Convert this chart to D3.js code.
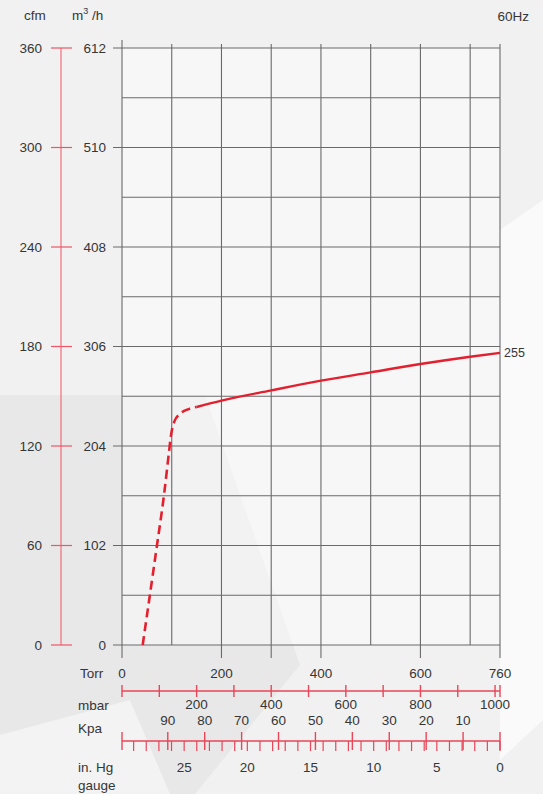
<!DOCTYPE html>
<html>
<head>
<meta charset="utf-8">
<script src="https://cdn.jsdelivr.net/npm/d3@7"></script>
<style>
  html, body { margin: 0; padding: 0; background: #efefef; }
  svg text { font-family: "Liberation Sans", Arial, sans-serif; font-size: 13.5px; fill: #363636; }
</style>
</head>
<body>
<div class="chartContainer"></div>
<script>
// DATA
var torrGrid = [0, 100, 200, 300, 400, 500, 600, 700, 760]
var torrLong = [0, 200, 300, 400, 600, 760]
var torrLabels = [0, 200, 400, 600, 760]
var flowGrid = [0, 51, 102, 153, 204, 255, 306, 357, 408, 459, 510, 561, 612]
var flowLabels = [0, 102, 204, 306, 408, 510, 612]
var cfmLabels = [0, 60, 120, 180, 240, 300, 360]
var mbarTicks = [0, 100, 200, 300, 400, 500, 600, 700, 800, 900, 1000, 1013.25]
var mbarLabels = [200, 400, 600, 800, 1000]
var kpaTicks = [0, 10, 20, 30, 40, 50, 60, 70, 80, 90, 102.4]
var kpaLabels = [90, 80, 70, 60, 50, 40, 30, 20, 10]
var inhgTicks = d3.range(0, 30)
var inhgLabels = [25, 20, 15, 10, 5, 0]

// curve, [torr, m3/h]
var curveDashed = [[41.6, 0], [56, 51], [70, 101], [84, 152], [95, 200], [98, 213], [101, 222], [106, 230], [114, 236], [125, 240], [138, 242.5], [150, 244]]
var curveSolid = [[150, 244], [200, 250.5], [300, 261], [400, 271], [500, 279.5], [600, 288], [700, 295.5], [760, 299.5]]

// SIZING
var width = 543
var height = 794

// SCALES
var x = d3.scaleLinear().domain([0, 760]).range([122, 500])
var y = d3.scaleLinear().domain([0, 612]).range([645, 48])
var cfm = d3.scaleLinear().domain([0, 360]).range([645, 48])
var mbarX = d3.scaleLinear().domain([0, 1013.25]).range([122, 500])
var kpaX = d3.scaleLinear().domain([0, 102.4]).range([500, 122])
var inhgX = d3.scaleLinear().domain([0, 29.92]).range([500, 122])

var svg = d3.select('div.chartContainer')
  .append('svg')
  .attr('width', width)
  .attr('height', height)

// BACKGROUND
svg.append('rect').attr('width', width).attr('height', height).attr('fill', '#f1f1f1')
svg.append('polygon')
  .attr('points', '0,395 205,395 300,665 195,794 0,794')
  .attr('fill', '#e8e8e8')
svg.append('polygon')
  .attr('points', '0,794 0,735 130,700 170,794')
  .attr('fill', '#f3f3f3')
svg.append('polygon')
  .attr('points', '500,230 543,200 543,720 500,760')
  .attr('fill', '#fafafa')
svg.append('rect')
  .attr('x', x(0)).attr('y', y(612))
  .attr('width', x(760) - x(0)).attr('height', y(0) - y(612))
  .attr('fill', '#ffffff').attr('opacity', 0.45)

// GRID
var grid = svg.append('g').attr('stroke', '#6a6a6a').attr('stroke-width', 1.1)
grid.selectAll('line.h')
  .data(flowGrid)
  .enter()
  .append('line')
  .attr('x1', function(d) { return flowLabels.indexOf(d) >= 0 ? 113 : x(0) })
  .attr('x2', x(760))
  .attr('y1', function(d) { return y(d) })
  .attr('y2', function(d) { return y(d) })
grid.selectAll('line.v')
  .data(torrGrid)
  .enter()
  .append('line')
  .attr('x1', function(d) { return x(d) })
  .attr('x2', function(d) { return x(d) })
  .attr('y1', function(d) { return d === 0 ? y(612) - 8 : y(612) - 4 })
  .attr('y2', function(d) { return torrLong.indexOf(d) >= 0 ? y(0) + 13 : y(0) })

// LEFT RED AXIS
svg.append('line')
  .attr('x1', 61).attr('x2', 61)
  .attr('y1', cfm(360)).attr('y2', cfm(0))
  .attr('stroke', '#ee5565').attr('stroke-width', 1)
svg.selectAll('line.cfmTick')
  .data(cfmLabels)
  .enter()
  .append('line')
  .attr('x1', 51).attr('x2', 72)
  .attr('y1', function(d) { return cfm(d) })
  .attr('y2', function(d) { return cfm(d) })
  .attr('stroke', '#ee5565').attr('stroke-width', 1.2)
svg.selectAll('text.cfm')
  .data(cfmLabels)
  .enter()
  .append('text')
  .attr('x', 42)
  .attr('y', function(d) { return cfm(d) + 1 })
  .attr('dominant-baseline', 'middle')
  .style('text-anchor', 'end')
  .text(function(d) { return d })
svg.selectAll('text.flow')
  .data(flowLabels)
  .enter()
  .append('text')
  .attr('x', 106)
  .attr('y', function(d) { return y(d) + 1 })
  .attr('dominant-baseline', 'middle')
  .style('text-anchor', 'end')
  .text(function(d) { return d })

// HEADERS
svg.append('text').attr('x', 24).attr('y', 20).text('cfm')
var unit = svg.append('text').attr('x', 72).attr('y', 20)
unit.append('tspan').text('m')
unit.append('tspan').attr('dy', -6).style('font-size', '9px').text('3')
unit.append('tspan').attr('dy', 6).text(' /h')
svg.append('text').attr('x', 529).attr('y', 21).style('text-anchor', 'end').text('60Hz')

// CURVE
var line = d3.line()
  .x(function(d) { return x(d[0]) })
  .y(function(d) { return y(d[1]) })
  .curve(d3.curveMonotoneX)
svg.append('path')
  .datum(curveDashed)
  .attr('d', line)
  .attr('fill', 'none')
  .attr('stroke', '#e2202f')
  .attr('stroke-width', 2.6)
  .attr('stroke-dasharray', '9,5')
svg.append('path')
  .datum(curveSolid)
  .attr('d', line)
  .attr('fill', 'none')
  .attr('stroke', '#e2202f')
  .attr('stroke-width', 2.4)
svg.append('text')
  .attr('x', 504)
  .attr('y', y(299.5) + 1)
  .attr('dominant-baseline', 'middle')
  .style('font-size', '12.5px')
  .text('255')

// TORR ROW
svg.append('text').attr('x', 80).attr('y', 678).text('Torr')
svg.selectAll('text.torr')
  .data(torrLabels)
  .enter()
  .append('text')
  .attr('x', function(d) { return x(d) })
  .attr('y', 678)
  .style('text-anchor', 'middle')
  .text(function(d) { return d })

// MBAR SCALE
var red = '#ea4658'
svg.append('line')
  .attr('x1', mbarX(0)).attr('x2', mbarX(1013.25))
  .attr('y1', 691).attr('y2', 691)
  .attr('stroke', red).attr('stroke-width', 1.6)
svg.selectAll('line.mbar')
  .data(mbarTicks)
  .enter()
  .append('line')
  .attr('x1', function(d) { return mbarX(d) })
  .attr('x2', function(d) { return mbarX(d) })
  .attr('y1', 685).attr('y2', 697)
  .attr('stroke', red).attr('stroke-width', 1.4)
svg.append('text').attr('x', 78).attr('y', 710).text('mbar')
svg.selectAll('text.mbar')
  .data(mbarLabels)
  .enter()
  .append('text')
  .attr('x', function(d) { return mbarX(d) })
  .attr('y', 709)
  .style('text-anchor', 'middle')
  .text(function(d) { return d })

// KPA / IN. HG SCALE
svg.append('text').attr('x', 78).attr('y', 733).text('Kpa')
svg.selectAll('text.kpa')
  .data(kpaLabels)
  .enter()
  .append('text')
  .attr('x', function(d) { return kpaX(d) })
  .attr('y', 725)
  .style('text-anchor', 'middle')
  .text(function(d) { return d })
svg.append('line')
  .attr('x1', inhgX(29.92)).attr('x2', inhgX(0))
  .attr('y1', 741).attr('y2', 741)
  .attr('stroke', red).attr('stroke-width', 1.6)
svg.selectAll('line.kpa')
  .data(kpaTicks)
  .enter()
  .append('line')
  .attr('x1', function(d) { return kpaX(d) })
  .attr('x2', function(d) { return kpaX(d) })
  .attr('y1', 732).attr('y2', 750)
  .attr('stroke', red).attr('stroke-width', 1.4)
svg.selectAll('line.inhg')
  .data(inhgTicks)
  .enter()
  .append('line')
  .attr('x1', function(d) { return inhgX(d) })
  .attr('x2', function(d) { return inhgX(d) })
  .attr('y1', 741).attr('y2', 751)
  .attr('stroke', red).attr('stroke-width', 1.2)
svg.append('text').attr('x', 78).attr('y', 772).text('in. Hg')
svg.append('text').attr('x', 78).attr('y', 790).text('gauge')
svg.selectAll('text.inhg')
  .data(inhgLabels)
  .enter()
  .append('text')
  .attr('x', function(d) { return inhgX(d) })
  .attr('y', 772)
  .style('text-anchor', 'middle')
  .text(function(d) { return d })
</script>
</body>
</html>
